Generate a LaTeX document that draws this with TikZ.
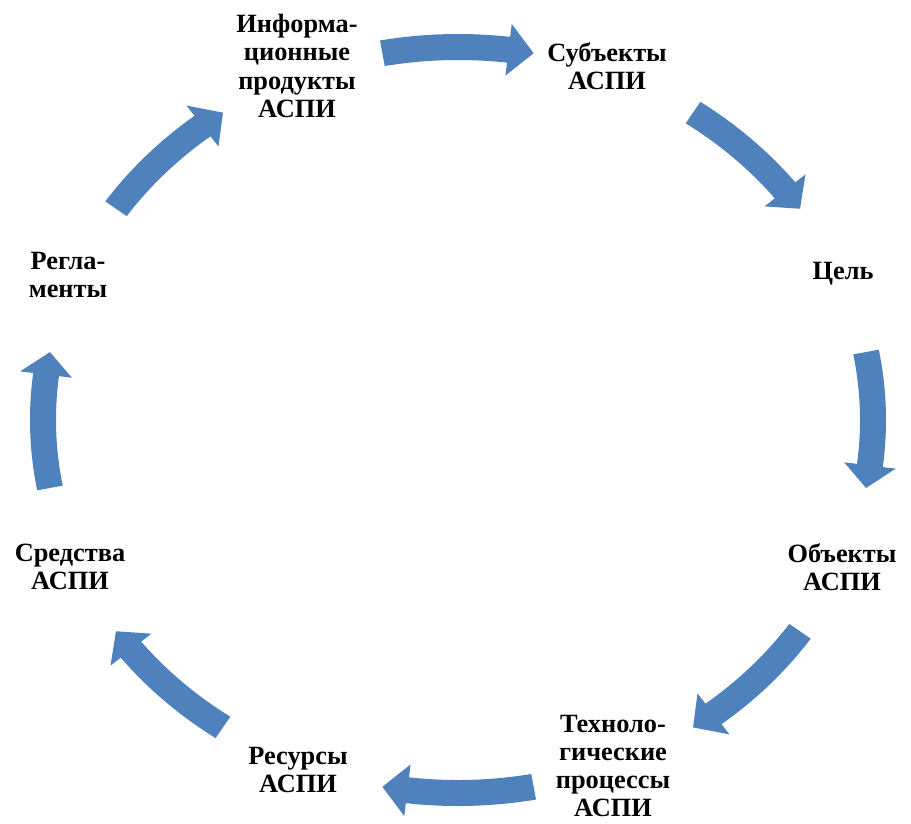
\documentclass[tikz,border=0pt]{standalone}
\usepackage{fontspec}
\setmainfont{Liberation Serif}
\usepackage{tikz}
\definecolor{ringblue}{RGB}{79,129,189}
\tikzset{
	stage/.style={align=center, inner sep=0pt, font=\fontsize{15}{16}\selectfont\bfseries}, % text of each stage of the cycle
}
% curved block arrow on the ring, centred at angle #1, turning clockwise
\newcommand{\ringarrow}[1]{%
	\pgfmathsetmacro{\as}{#1+10.5}%
	\pgfmathsetmacro{\ah}{#1-7}%
	\pgfmathsetmacro{\ae}{#1-10.5}%
	\fill[ringblue] (\as:428 and 386) arc[start angle=\as, end angle=\ah, x radius=428, y radius=386]
		-- (\ah:441 and 399) -- (\ae:415 and 373) -- (\ah:389 and 347) -- (\ah:402 and 360)
		arc[start angle=\ah, end angle=\as, x radius=402, y radius=360] -- cycle;%
}

\begin{document}
\begin{tikzpicture}[x=0.02cm, y=0.02cm]
	\useasboundingbox (-458,-403) rectangle (453,420);
	\node[stage] (info) at (-161,354) {Информа-\\ционные\\продукты\\АСПИ};
	\node[stage] (subj) at (149,354) {Субъекты\\АСПИ};
	\node[stage] (goal) at (385,146) {Цель};
	\node[stage] (obj) at (384,-147) {Объекты\\АСПИ};
	\node[stage] (tech) at (155,-346) {Техноло-\\гические\\процессы\\АСПИ};
	\node[stage] (res) at (-160,-350) {Ресурсы\\АСПИ};
	\node[stage] (means) at (-388,-147) {Средства\\АСПИ};
	\node[stage] (regl) at (-390,145) {Регла-\\менты};
	% arrows between the stages
	\ringarrow{90}
	\ringarrow{45}
	\ringarrow{0}
	\ringarrow{-45}
	\ringarrow{-90}
	\ringarrow{-135}
	\ringarrow{180}
	\ringarrow{135}
\end{tikzpicture}
\end{document}
